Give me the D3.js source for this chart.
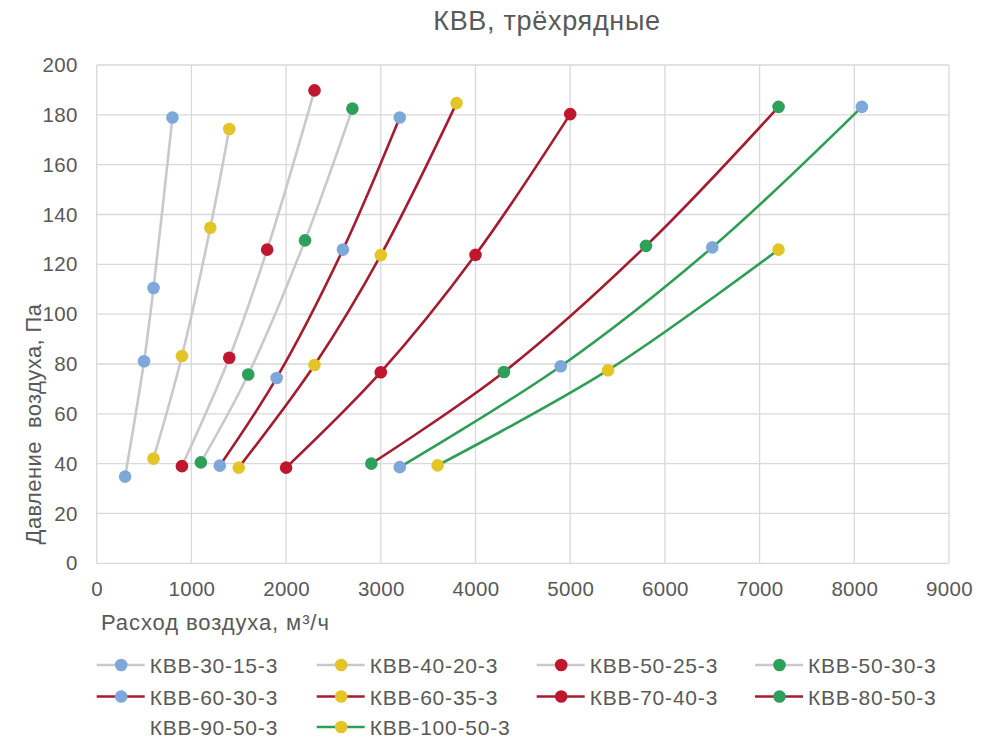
<!DOCTYPE html>
<html>
<head>
<meta charset="utf-8">
<script src="https://cdn.jsdelivr.net/npm/d3@7"></script>
<style>
  body { margin: 0; background: #fff; }
  text { font-family: "Liberation Sans", Arial, sans-serif; fill: #595959; }
</style>
</head>
<body>
<div id="chart"></div>
<script>
// series names and the points
let seriesNames = ["КВВ-30-15-3", "КВВ-40-20-3", "КВВ-50-25-3", "КВВ-50-30-3",
                   "КВВ-60-30-3", "КВВ-60-35-3", "КВВ-70-40-3", "КВВ-80-50-3",
                   "КВВ-90-50-3", "КВВ-100-50-3"]

// air flow, m3/h
let flowValues = [
  [300, 500, 600, 800],
  [600, 900, 1200, 1400],
  [900, 1400, 1800, 2300],
  [1100, 1600, 2200, 2700],
  [1300, 1900, 2600, 3200],
  [1500, 2300, 3000, 3800],
  [2000, 3000, 4000, 5000],
  [2900, 4300, 5800, 7200],
  [3200, 4900, 6500, 8080],
  [3600, 5400, 7200]
]

// pressure, Pa
let pressureValues = [
  [34.8, 81.1, 110.5, 178.9],
  [42.0, 83.2, 134.7, 174.3],
  [39.0, 82.5, 125.9, 189.8],
  [40.5, 75.8, 129.6, 182.5],
  [39.2, 74.4, 125.9, 178.9],
  [38.4, 79.6, 123.7, 184.7],
  [38.4, 76.7, 123.8, 180.3],
  [40.0, 76.8, 127.4, 183.2],
  [38.6, 79.1, 126.8, 183.2],
  [39.3, 77.5, 125.9]
]

let xTicks = [0, 1000, 2000, 3000, 4000, 5000, 6000, 7000, 8000, 9000]
let yTicks = [0, 20, 40, 60, 80, 100, 120, 140, 160, 180, 200]

// colours
let grey = "#c9c9cd", darkRed = "#a51c30", green = "#2e9e55"
let blue = "#7ea8da", yellow = "#e4c527", red = "#c0172f", mGreen = "#2da05a"
let lineColors = [grey, grey, grey, grey, darkRed, darkRed, darkRed, darkRed, green, green]
let markerColors = [blue, yellow, red, mGreen, blue, yellow, red, mGreen, blue, yellow]

let width = 997, height = 742
let plotLeft = 96.7, plotRight = 949, plotTop = 65, plotBottom = 563.3

let svg = d3.select("#chart").append("svg")
  .attr("width", width)
  .attr("height", height)

let x = d3.scaleLinear().domain([0, 9000]).range([plotLeft, plotRight])
let y = d3.scaleLinear().domain([0, 200]).range([plotBottom, plotTop])

// grid lines
svg.append("g").selectAll("line")
  .data(xTicks)
  .enter()
  .append("line")
  .attr("x1", d => x(d)).attr("x2", d => x(d))
  .attr("y1", plotTop).attr("y2", plotBottom)
  .style("stroke", "#d9d9d9").style("stroke-width", 1.3)

svg.append("g").selectAll("line")
  .data(yTicks)
  .enter()
  .append("line")
  .attr("x1", plotLeft).attr("x2", plotRight)
  .attr("y1", d => y(d)).attr("y2", d => y(d))
  .style("stroke", "#d9d9d9").style("stroke-width", 1.3)

// tick labels via d3 axes (no lines)
svg.append("g")
  .attr("transform", "translate(0," + plotBottom + ")")
  .call(d3.axisBottom(x).tickValues(xTicks).tickSize(0).tickPadding(18).tickFormat(d3.format("d")))
svg.append("g")
  .attr("transform", "translate(" + plotLeft + ",0)")
  .call(d3.axisLeft(y).tickValues(yTicks).tickSize(0).tickPadding(19).tickFormat(d3.format("d")))

svg.selectAll(".domain").remove()
svg.selectAll(".tick text")
  .style("font-family", "'Liberation Sans', Arial, sans-serif")
  .style("font-size", "20.5px")
  .style("letter-spacing", "0.3px")
  .style("fill", "#595959")

// title and axis titles
svg.append("text")
  .attr("x", 547).attr("y", 30)
  .attr("text-anchor", "middle")
  .style("font-size", "27px")
  .style("letter-spacing", "0.7px")
  .text("КВВ, трёхрядные")

svg.append("text")
  .attr("x", 101).attr("y", 630)
  .style("font-size", "22px")
  .style("letter-spacing", "0.9px")
  .text("Расход воздуха, м³/ч")

svg.append("text")
  .attr("transform", "translate(41,424) rotate(-90)")
  .attr("text-anchor", "middle")
  .style("font-size", "22px")
  .style("letter-spacing", "0.4px")
  .style("white-space", "pre")
  .text("Давление  воздуха, Па")

// series
let series = seriesNames.map((name, i) => ({
  name: name,
  points: flowValues[i].map((f, j) => ({ f: f, p: pressureValues[i][j] })),
  i: i
}))

let line = d3.line()
  .x(d => x(d.f))
  .y(d => y(d.p))
  .curve(d3.curveCatmullRom.alpha(0.5))

svg.append("g").selectAll("path")
  .data(series)
  .enter()
  .append("path")
  .attr("d", d => line(d.points))
  .style("fill", "none")
  .style("stroke", d => lineColors[d.i])
  .style("stroke-width", 2.6)

let groups = svg.append("g").selectAll("g")
  .data(series)
  .enter()
  .append("g")

groups.selectAll("circle")
  .data(d => d.points.map(p => ({ f: p.f, p: p.p, i: d.i })))
  .enter()
  .append("circle")
  .attr("cx", d => x(d.f))
  .attr("cy", d => y(d.p))
  .attr("r", 6.3)
  .style("fill", d => markerColors[d.i])

// legend
let legendX = [96.7, 316.7, 536.7, 755]
let legendY = [665, 696.5, 727]

let legend = svg.append("g").selectAll("g")
  .data(series)
  .enter()
  .append("g")
  .attr("transform", d => "translate(" + legendX[d.i % 4] + "," + legendY[Math.floor(d.i / 4)] + ")")

// КВВ-90-50-3 has no symbol in the legend
legend.filter(d => d.i !== 8)
  .append("line")
  .attr("x1", 0).attr("x2", 48)
  .style("stroke", d => lineColors[d.i])
  .style("stroke-width", 2.6)

legend.filter(d => d.i !== 8)
  .append("circle")
  .attr("cx", 24.5)
  .attr("r", 6.3)
  .style("fill", d => markerColors[d.i])

legend.append("text")
  .attr("x", 53)
  .attr("y", 8)
  .style("font-size", "21px")
  .style("letter-spacing", "0.8px")
  .text(d => d.name)
</script>
</body>
</html>
